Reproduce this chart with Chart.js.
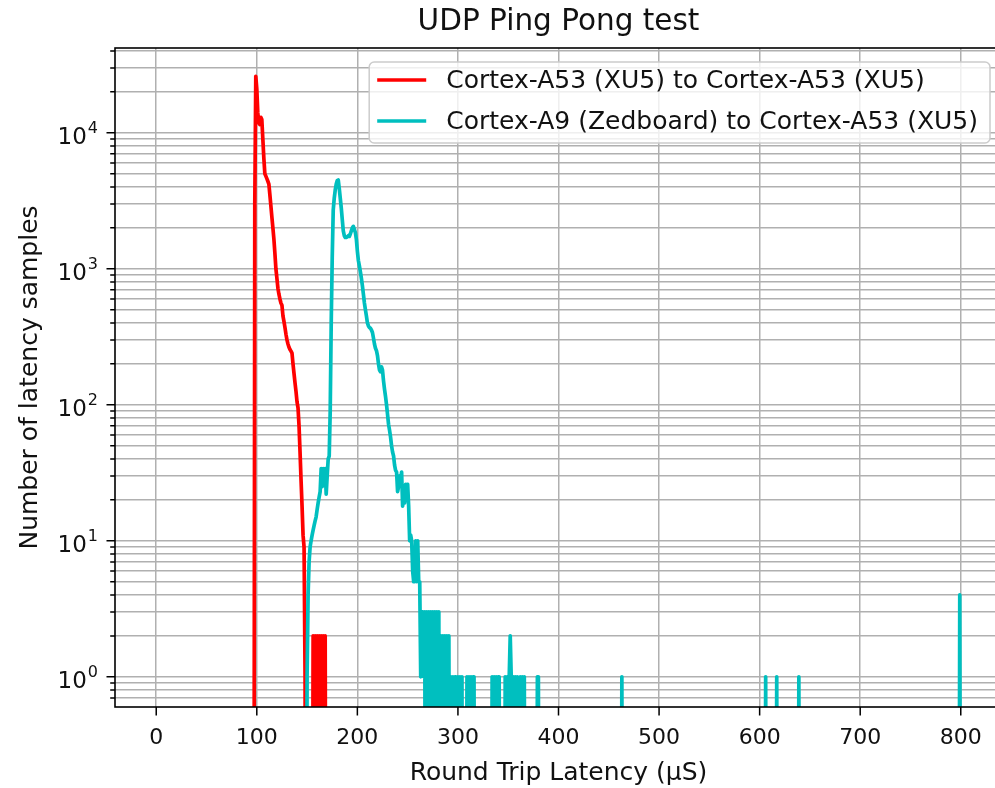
<!DOCTYPE html>
<html>
<head>
<meta charset="utf-8">
<title>UDP Ping Pong test</title>
<script src="https://cdn.jsdelivr.net/npm/chart.js@4.4.0/dist/chart.umd.min.js"></script>
<style>
  html, body { margin: 0; padding: 0; background: #fff; overflow: hidden; }
  #wrap { position: relative; width: 1002px; height: 788px; }
</style>
</head>
<body>
<div id="wrap"><canvas id="chart"></canvas></div>
<script>
// histogram of round trip latency, 1 us bins (only bins where the count changes are listed)
const a53Latency = [96, 97, 98, 99, 100, 101, 102, 103, 104, 105, 106, 107, 108, 109, 110, 111, 112, 113, 114, 115,
  116, 117, 118, 119, 120, 121, 122, 123, 124, 125, 126, 127, 128, 129, 130, 131, 132, 133, 134, 135,
  136, 137, 138, 139, 140, 141, 142, 143, 144, 145, 146, 147, 148, 149, 155,
  156, 157, 158, 159, 160, 161, 162, 163, 164, 165, 166, 167, 168, 169];
const a53Count = [0, 0, 3000, 26000, 21000, 14000, 11800, 11500, 13000, 12500, 9000, 6500, 5000, 4800, 4600, 4400, 4200, 3500, 2900, 2400,
  2000, 1650, 1300, 1000, 850, 720, 650, 600, 560, 540, 450, 410, 370, 330, 300, 280, 265, 255, 248, 240,
  200, 170, 145, 125, 105, 95, 70, 45, 28, 18, 11, 9, 1, 0, 0,
  2, 0, 2, 0, 2, 0, 2, 0, 2, 0, 2, 0, 2, 0];

const a9Latency = [148, 149, 150, 151, 152, 153, 154, 155, 156, 157, 158, 159, 160, 161, 162, 163, 164, 165, 166, 167,
  168, 169, 170, 171, 172, 173, 174, 175, 176, 177, 178, 179, 180, 181, 182, 183, 184, 185, 186, 187,
  188, 189, 190, 191, 192, 193, 194, 195, 196, 197, 198, 199, 200, 201, 202, 203, 204, 205, 206, 207,
  208, 209, 210, 211, 212, 213, 214, 215, 216, 217, 218, 219, 220, 221, 222, 223, 224, 225, 226, 227,
  228, 229, 230, 231, 232, 233, 234, 235, 236, 237, 238, 239, 240, 241, 242, 243, 244, 245, 246, 247,
  248, 249, 250, 251, 252, 253, 254, 255, 256, 257, 258, 259, 260, 261, 262, 263, 264, 265, 266, 267,
  268, 269, 270, 271, 272, 273, 274, 275, 276, 277, 278, 279, 280, 281, 282, 283, 284, 285, 286, 287,
  288, 289, 290, 291, 292, 293, 294, 295, 296, 297, 298, 299, 300, 301, 302, 303, 304, 305, 308, 309,
  310, 311, 312, 313, 314, 315, 316, 317, 333, 334, 335, 336, 337, 338, 339, 340, 341, 342, 346, 347,
  348, 349, 350, 351, 352, 353, 354, 355, 356, 357, 358, 359, 360, 362, 363, 364, 365, 366, 367, 378,
  379, 380, 381, 462, 463, 464, 605, 606, 607, 616, 617, 618, 638, 639, 640, 798, 799, 800];
const a9Count = [0, 0, 1, 4, 7, 9, 10, 11, 12, 13, 14, 15, 17, 19, 21, 23, 34, 25, 34, 30,
  34, 22, 30, 40, 42, 90, 400, 1200, 2700, 3300, 3800, 4200, 4450, 4500, 3900, 3300, 2800, 2300, 1900, 1750,
  1700, 1700, 1720, 1750, 1730, 1800, 1900, 2000, 2050, 1950, 1850, 1650, 1350, 1150, 1050, 950, 850, 750, 650, 560,
  500, 450, 400, 380, 370, 365, 355, 340, 310, 280, 260, 250, 230, 200, 180, 175, 190, 180, 150, 130,
  115, 100, 85, 72, 65, 58, 50, 45, 42, 36, 33, 32, 23, 25, 30, 28, 32, 18, 21, 19,
  26, 24, 26, 18, 10, 11, 10, 6, 5, 5, 10, 5, 10, 5, 5, 1, 3, 3, 1, 3,
  0, 3, 1, 3, 0, 3, 0, 3, 1, 3, 0, 3, 0, 3, 0, 2, 0, 2, 1, 2,
  0, 2, 0, 2, 0, 1, 0, 1, 0, 1, 1, 0, 1, 0, 1, 0, 1, 0, 0, 1,
  0, 1, 0, 1, 0, 1, 1, 0, 0, 1, 0, 1, 0, 1, 0, 1, 1, 0, 0, 1,
  0, 1, 0, 1, 2, 1, 0, 1, 0, 1, 0, 1, 0, 1, 0, 1, 0, 1, 0, 0,
  1, 1, 0, 0, 1, 0, 0, 1, 0, 0, 1, 0, 0, 1, 0, 0, 4, 0];

const seriesNames = ['Cortex-A53 (XU5) to Cortex-A53 (XU5)', 'Cortex-A9 (Zedboard) to Cortex-A53 (XU5)'];
const xTicks = [0, 100, 200, 300, 400, 500, 600, 700, 800];
const yMajor = [1, 10, 100, 1000, 10000];
const yExponents = ['0', '1', '2', '3', '4'];

const Y_MIN = 0.623, Y_MAX = 42000;

// like matplotlib's log clipping: empty bins drop far below the axis
const LOG_FLOOR = 1e-3;
const toPoints = (xs, ys) => xs.map((x, i) => ({ x: x, y: ys[i] > 0 ? ys[i] : LOG_FLOOR }));

// minor log grid 2..9 per decade
const yGrid = [0.7, 0.8, 0.9];
yMajor.forEach(d => { for (let k = 1; k <= 9; k++) yGrid.push(d * k); });
const yTicks = yGrid.filter(v => v >= Y_MIN && v <= Y_MAX);

const FONT = "'DejaVu Sans', sans-serif";
const TEXT = '#111';

const decor = {
  id: 'decor',
  afterDatasetsDraw(chart) {
    const { ctx, chartArea: a, scales } = chart;
    ctx.save();
    ctx.strokeStyle = '#000';
    ctx.lineWidth = 1.5;
    ctx.beginPath();
    xTicks.forEach(v => {
      const px = scales.x.getPixelForValue(v);
      ctx.moveTo(px, a.bottom);
      ctx.lineTo(px, a.bottom + 8.5);
    });
    yTicks.forEach(v => {
      const py = scales.y.getPixelForValue(v);
      const len = yMajor.includes(v) ? 8.5 : 4.8;
      ctx.moveTo(a.left - len, py);
      ctx.lineTo(a.left, py);
    });
    ctx.stroke();
    ctx.lineWidth = 1.6;
    ctx.strokeRect(a.left, a.top, a.right - a.left, a.bottom - a.top);

    // y tick labels as 10 with a raised exponent
    ctx.fillStyle = TEXT;
    ctx.textAlign = 'left';
    ctx.textBaseline = 'alphabetic';
    const xr = a.left - 17;
    yMajor.forEach((v, i) => {
      const py = scales.y.getPixelForValue(v);
      ctx.font = '16px ' + FONT;
      const w2 = ctx.measureText(yExponents[i]).width;
      ctx.font = '23px ' + FONT;
      const w1 = ctx.measureText('10').width;
      ctx.fillText('10', xr - w2 - w1 - 1, py + 11);
      ctx.font = '16px ' + FONT;
      ctx.fillText(yExponents[i], xr - w2, py);
    });
    ctx.restore();
  },
  afterDraw(chart) {
    const { ctx, chartArea: a } = chart;
    ctx.save();
    // title
    ctx.fillStyle = TEXT;
    ctx.font = '29.5px ' + FONT;
    ctx.textAlign = 'center';
    ctx.textBaseline = 'alphabetic';
    ctx.fillText('UDP Ping Pong test', (a.left + a.right) / 2, 30);

    // legend, upper right
    ctx.font = '25px ' + FONT;
    const ds = chart.data.datasets;
    const textW = Math.max(...ds.map(d => ctx.measureText(d.label).width));
    const right = a.right - 12;
    const top = a.top + 14;
    const handle = 49, gap = 20, padX = 8;
    const left = right - (padX + handle + gap + textW + 12);
    const rowH = 41;
    const bottom = top + 81;
    ctx.beginPath();
    ctx.roundRect(left, top, right - left, bottom - top, 5);
    ctx.fillStyle = 'rgba(255,255,255,0.8)';
    ctx.fill();
    ctx.strokeStyle = '#cccccc';
    ctx.lineWidth = 1.5;
    ctx.stroke();
    ds.forEach((d, i) => {
      const cy = top + 18 + i * rowH;
      ctx.strokeStyle = d.borderColor;
      ctx.lineWidth = 3.7;
      ctx.beginPath();
      ctx.moveTo(left + padX, cy);
      ctx.lineTo(left + padX + handle, cy);
      ctx.stroke();
      ctx.fillStyle = TEXT;
      ctx.textAlign = 'left';
      ctx.textBaseline = 'middle';
      ctx.fillText(d.label, left + padX + handle + gap, cy + 1);
    });
    ctx.restore();
  }
};

new Chart(document.getElementById('chart'), {
  type: 'line',
  data: {
    datasets: [
      {
        label: seriesNames[0],
        data: toPoints(a53Latency, a53Count),
        borderColor: '#ff0000',
        borderWidth: 3.7,
        pointRadius: 0,
        borderJoinStyle: 'round',
        clip: 0,
        order: 1
      },
      {
        label: seriesNames[1],
        data: toPoints(a9Latency, a9Count),
        borderColor: '#00bfbf',
        borderWidth: 3.7,
        pointRadius: 0,
        borderJoinStyle: 'round',
        clip: 0,
        order: 0
      }
    ]
  },
  options: {
    responsive: true,
    maintainAspectRatio: false,
    animation: false,
    events: [],
    layout: { padding: { top: 48, left: 0, right: 0, bottom: 0 } },
    scales: {
      x: {
        type: 'linear',
        min: -41,
        max: 841,
        afterBuildTicks: s => { s.ticks = xTicks.map(v => ({ value: v })); },
        afterFit: s => { s.height = 81; },
        grid: { color: '#b0b0b0', lineWidth: 1.5, drawTicks: false },
        border: { display: false },
        ticks: {
          autoSkip: false,
          maxRotation: 0,
          padding: 18,
          color: TEXT,
          font: { family: FONT, size: 22 },
          callback: v => String(v)
        },
        title: {
          display: true,
          text: 'Round Trip Latency (\u03bcS)',
          color: TEXT,
          font: { family: FONT, size: 25 },
          padding: { top: 0, bottom: 0 }
        }
      },
      y: {
        type: 'logarithmic',
        min: Y_MIN,
        max: Y_MAX,
        afterBuildTicks: s => { s.ticks = yTicks.map(v => ({ value: v })); },
        afterFit: s => { s.width = 115; },
        grid: { color: '#b0b0b0', lineWidth: 1.5, drawTicks: false },
        border: { display: false },
        ticks: {
          autoSkip: false,
          padding: 17,
          callback: () => ''
        },
        title: {
          display: true,
          text: 'Number of latency samples',
          color: TEXT,
          font: { family: FONT, size: 25 },
          padding: { top: 15, bottom: 0 }
        }
      }
    },
    plugins: {
      legend: { display: false },
      tooltip: { enabled: false }
    }
  },
  plugins: [decor]
});
</script>
</body>
</html>
